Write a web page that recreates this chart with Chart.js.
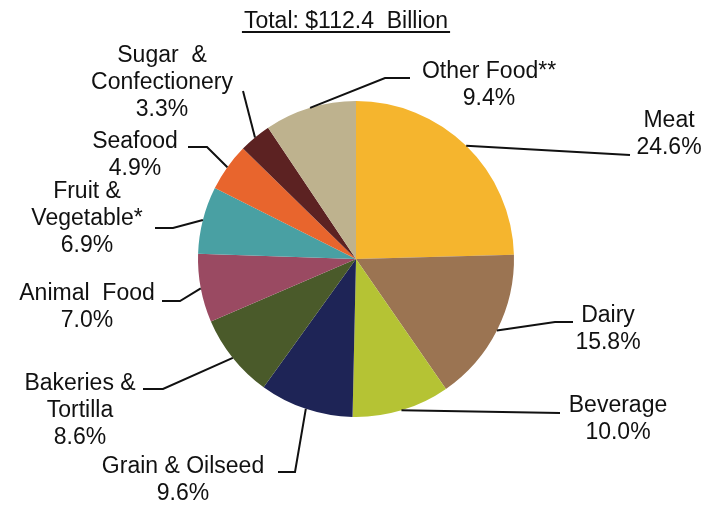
<!DOCTYPE html>
<html>
<head>
<meta charset="utf-8">
<script src="https://cdn.jsdelivr.net/npm/chart.js@4/dist/chart.umd.min.js"></script>
<style>
html,body{margin:0;padding:0;background:#fff;}
#wrap{width:713px;height:505px;}
</style>
</head>
<body>
<div id="wrap"><canvas id="c" width="713" height="505"></canvas></div>
<script>
// ---- data ----
const categories = ['Meat','Dairy','Beverage','Grain & Oilseed','Bakeries & Tortilla','Animal Food','Fruit & Vegetable*','Seafood','Sugar & Confectionery','Other Food**'];
const values = [24.6, 15.8, 10.0, 9.6, 8.6, 7.0, 6.9, 4.9, 3.3, 9.4];
const labelLines = [['Meat'],['Dairy'],['Beverage'],['Grain & Oilseed'],['Bakeries &','Tortilla'],['Animal  Food'],['Fruit &','Vegetable*'],['Seafood'],['Sugar  &','Confectionery']];
labelLines.push(['Other Food**']);
const colors = ['#F5B52E','#9B7452','#B5C334','#1E2456','#4A5A2A','#9A4A62','#49A0A3','#E8652D','#5C2222','#BEB28E'];
const titleText = 'Total: $112.4  Billion';

// ---- label layout (annotation positions) ----
// cx: text center x, by: first baseline y, lh: line height, path: leader points after the slice edge
const labelLayout = [
  {cx:669, by:127, path:[[630,155]]},
  {cx:608, by:322, path:[[555,322],[573,322]]},
  {cx:618, by:412, path:[[560,413]]},
  {cx:183, by:473, path:[[295,472],[278,472]]},
  {cx:80,  by:390, path:[[163,389],[143,389]]},
  {cx:87,  by:300, path:[[180,301],[162,301]]},
  {cx:87,  by:198, path:[[173,228],[155,228]]},
  {cx:135, by:148, path:[[207,147],[188,147]]},
  {cx:162, by:62,  path:[[243,91]]},
  {cx:489, by:78,  path:[[385,78],[410,78]]}
];
const LH = 27;
const FONT = '23px "Liberation Sans", Arial, sans-serif';

const labelPlugin = {
  id:'labels',
  afterDatasetsDraw(chart){
    const ctx = chart.ctx;
    const meta = chart.getDatasetMeta(0);
    ctx.save();
    // title
    ctx.font = FONT;
    ctx.fillStyle = '#111';
    ctx.textAlign = 'center';
    ctx.textBaseline = 'alphabetic';
    ctx.fillText(titleText, 346, 28);
    const tw = ctx.measureText(titleText).width;
    ctx.fillRect(346 - tw/2 - 2, 31, tw + 4, 2);
    // leaders + labels
    meta.data.forEach((arc, i) => {
      const p = arc.getProps(['x','y','startAngle','endAngle','outerRadius'], true);
      const mid = (p.startAngle + p.endAngle) / 2;
      const sx = p.x + Math.cos(mid) * p.outerRadius;
      const sy = p.y + Math.sin(mid) * p.outerRadius;
      const L = labelLayout[i];
      ctx.beginPath();
      ctx.strokeStyle = '#111';
      ctx.lineWidth = 2;
      ctx.moveTo(sx, sy);
      L.path.forEach(pt => ctx.lineTo(pt[0], pt[1]));
      ctx.stroke();
      const lines = labelLines[i].concat([values[i].toFixed(1) + '%']);
      ctx.fillStyle = '#111';
      lines.forEach((t, k) => ctx.fillText(t, L.cx, L.by + k * LH));
    });
    ctx.restore();
  }
};

new Chart(document.getElementById('c'), {
  type:'pie',
  data:{
    labels: categories,
    datasets:[{data: values, backgroundColor: colors, borderWidth: 0}]
  },
  options:{
    responsive:false,
    animation:false,
    layout:{padding:{top:101, bottom:88, left:0, right:1}},
    plugins:{legend:{display:false}, tooltip:{enabled:false}, title:{display:false}}
  },
  plugins:[labelPlugin]
});
</script>
</body>
</html>
